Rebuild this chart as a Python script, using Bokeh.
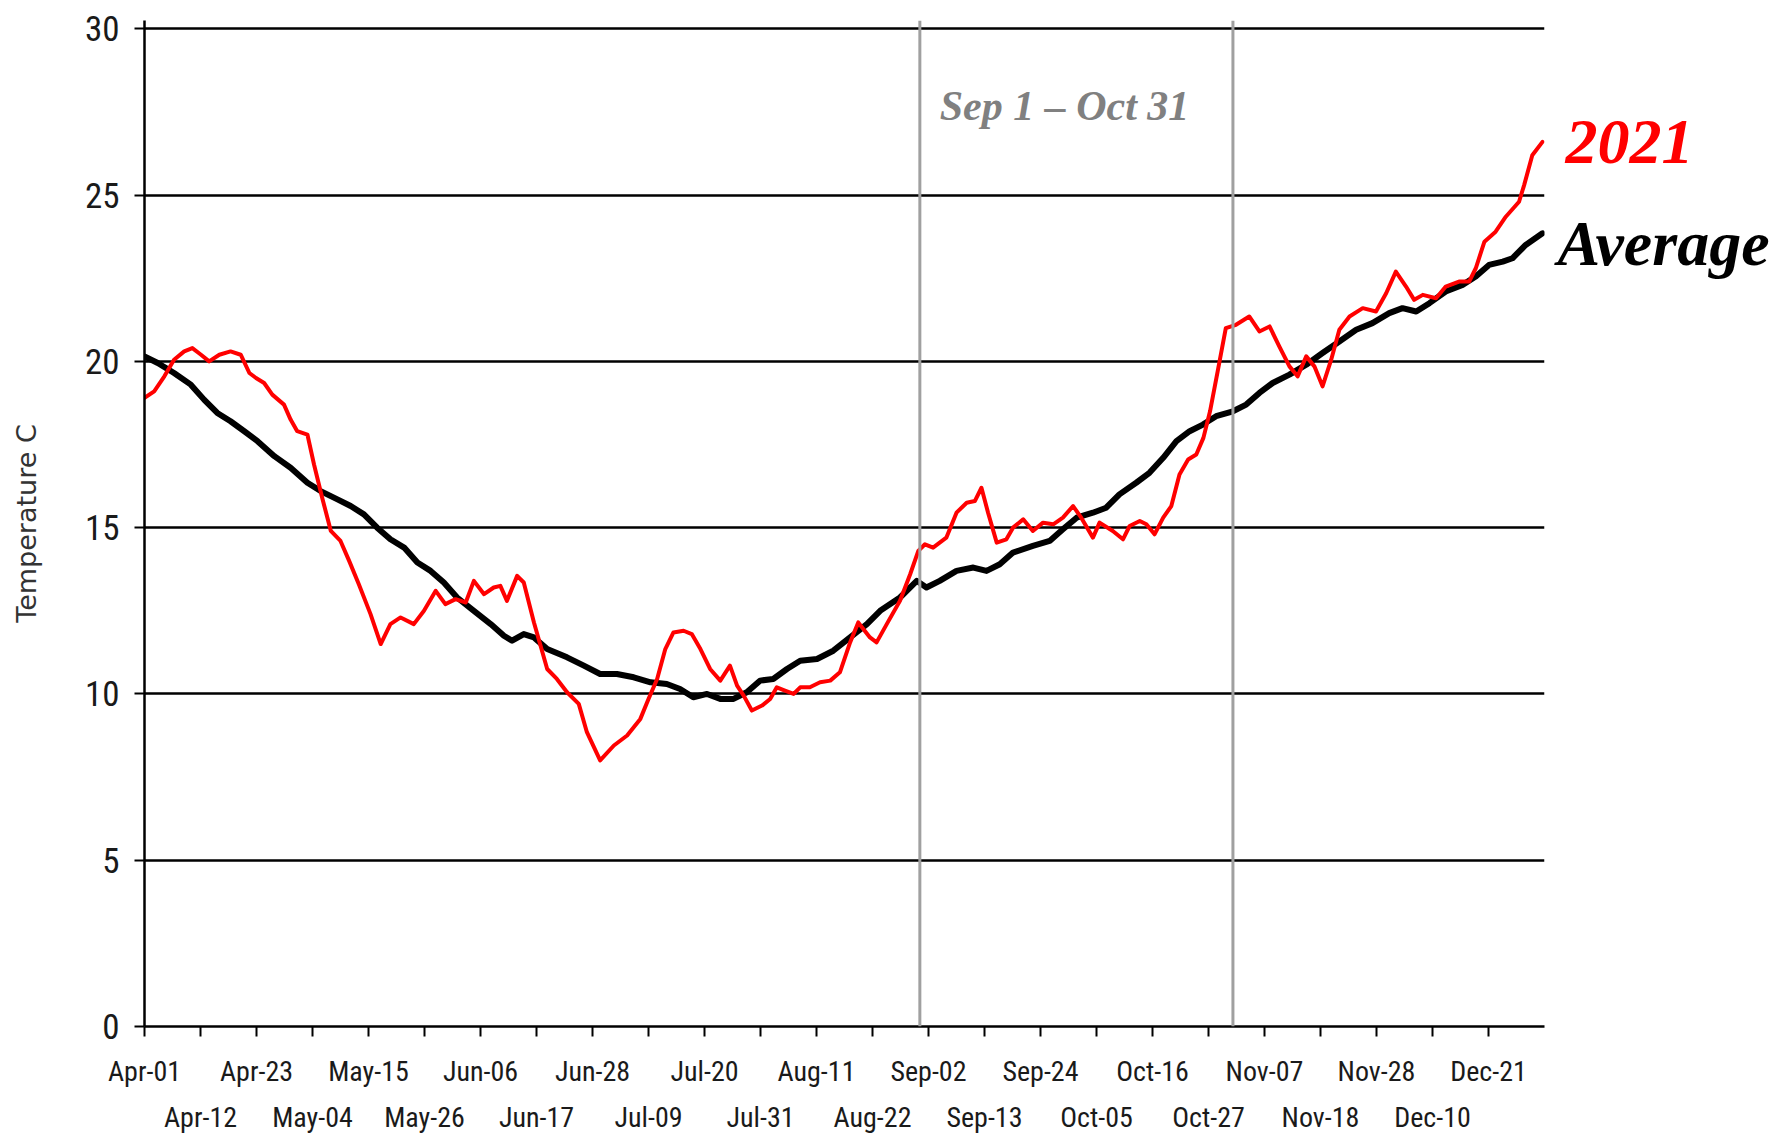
from bokeh.plotting import figure
from bokeh.layouts import row
from bokeh.models import LinearAxis, FixedTicker, Span, Label, Range1d
from bokeh.core.properties import value
from bokeh.embed import file_html
from bokeh.resources import INLINE

# ---- tick labels (one tick every 11 day-index units) ----
tick_labels = ["Apr-01", "Apr-12", "Apr-23", "May-04", "May-15", "May-26", "Jun-06",
               "Jun-17", "Jun-28", "Jul-09", "Jul-20", "Jul-31", "Aug-11", "Aug-22",
               "Sep-02", "Sep-13", "Sep-24", "Oct-05", "Oct-16", "Oct-27", "Nov-07",
               "Nov-18", "Nov-28", "Dec-10", "Dec-21"]
tick_step = 11
y_ticks = [0, 5, 10, 15, 20, 25, 30]

# ---- 2021 series (day index, temperature C) ----
day_2021 = [0, 1.9, 3.9, 5.8, 7.8, 9.4, 11.1, 12.7, 14.7, 16.9, 18.9, 20.6, 21.9, 23.5, 25.1,
            27.4, 28.7, 30.0, 32.0, 33.3, 34.9, 36.6, 38.5, 40.2, 42.1, 44.4, 46.4, 48.3, 50.3,
            52.9, 54.9, 57.2, 59.1, 61.1, 63.1, 64.7, 66.7, 68.6, 69.9, 71.2, 73.2, 74.5, 76.5,
            79.1, 81.0, 83.0, 85.3, 86.9, 89.5, 92.2, 94.8, 97.4, 99.0, 100.7, 102.3, 103.9,
            105.9, 107.5, 109.2, 111.1, 113.1, 115.0, 116.4, 117.7, 119.3, 121.3, 122.9, 124.2,
            125.8, 127.5, 128.8, 130.7, 132.7, 134.7, 136.6, 138.6, 140.2, 142.5, 143.8, 145.8,
            148.4, 150.4, 152.0, 153.3, 154.9, 157.5, 159.5, 161.5, 163.1, 164.4, 165.7, 167.4,
            169.3, 170.6, 172.6, 174.5, 176.5, 178.5, 180.4, 182.4, 184.0, 186.3, 187.6, 190.2,
            192.2, 193.5, 195.5, 196.8, 198.4, 200.1, 201.7, 203.3, 205.0, 206.6, 208.0, 209.3,
            210.8, 212.4, 214.4, 217.0, 219.0, 221.0, 222.9, 224.9, 226.5, 228.2, 229.8, 231.4,
            233.1, 234.7, 236.7, 239.3, 241.9, 243.9, 245.8, 247.8, 249.4, 251.1, 253.7, 255.6,
            258.2, 260.2, 261.5, 263.2, 265.4, 267.4, 270.0, 271.0, 272.6, 274.6]
temp_2021 = [18.9, 19.1, 19.55, 20.05, 20.3, 20.4, 20.2, 20.0, 20.2, 20.3, 20.2, 19.65, 19.5,
             19.35, 19.0, 18.7, 18.25, 17.9, 17.8, 16.9, 15.9, 14.9, 14.6, 14.0, 13.3, 12.4, 11.5,
             12.1, 12.3, 12.1, 12.5, 13.1, 12.7, 12.85, 12.75, 13.4, 13.0, 13.2, 13.25, 12.8,
             13.55, 13.35, 12.15, 10.75, 10.45, 10.05, 9.7, 8.85, 8.0, 8.45, 8.75, 9.25, 9.85,
             10.45, 11.35, 11.85, 11.9, 11.8, 11.35, 10.75, 10.4, 10.85, 10.25, 9.95, 9.5, 9.65,
             9.85, 10.2, 10.1, 10.0, 10.2, 10.2, 10.35, 10.4, 10.65, 11.55, 12.15, 11.7, 11.55,
             12.1, 12.8, 13.6, 14.3, 14.5, 14.4, 14.7, 15.45, 15.75, 15.8, 16.2, 15.45, 14.55,
             14.65, 15.0, 15.25, 14.9, 15.15, 15.1, 15.3, 15.65, 15.3, 14.7, 15.15, 14.9, 14.65,
             15.05, 15.2, 15.1, 14.8, 15.3, 15.65, 16.6, 17.05, 17.2, 17.7, 18.5, 19.7, 21.0,
             21.1, 21.35, 20.9, 21.05, 20.45, 19.85, 19.55, 20.15, 19.85, 19.25, 20.05, 20.95,
             21.35, 21.6, 21.5, 22.05, 22.7, 22.25, 21.85, 22.0, 21.9, 22.25, 22.4, 22.4, 22.8,
             23.6, 23.9, 24.35, 24.8, 25.3, 26.2, 26.6]

# ---- Average series ----
day_avg = [0, 2.6, 5.8, 9.1, 11.7, 14.3, 16.9, 19.6, 22.2, 25.5, 28.7, 32.0, 34.6, 37.9, 40.5,
           43.1, 45.7, 48.3, 51.0, 53.6, 56.2, 58.8, 61.4, 64.7, 68.0, 70.6, 72.2, 74.5, 76.5,
           79.1, 83.0, 86.3, 89.5, 92.8, 96.1, 99.4, 102.6, 105.2, 107.8, 110.5, 113.1, 115.7,
           118.3, 120.9, 123.5, 126.2, 128.8, 132.1, 135.3, 138.6, 141.9, 144.5, 148.4, 151.7,
           153.6, 156.2, 159.5, 162.8, 165.4, 168.0, 170.6, 174.5, 177.8, 180.4, 183.1, 186.3,
           188.9, 191.5, 194.8, 197.4, 200.1, 202.7, 205.3, 207.9, 210.5, 213.8, 216.4, 219.0,
           221.6, 224.9, 228.2, 231.4, 234.7, 238.0, 241.2, 244.5, 247.1, 249.8, 252.4, 255.6,
           258.9, 261.5, 264.1, 266.8, 268.7, 271.3, 274.6]
temp_avg = [20.15, 19.95, 19.65, 19.3, 18.85, 18.45, 18.2, 17.9, 17.6, 17.15, 16.8, 16.35, 16.1,
            15.85, 15.65, 15.4, 15.0, 14.65, 14.4, 13.95, 13.7, 13.35, 12.9, 12.5, 12.1, 11.75,
            11.6, 11.8, 11.7, 11.35, 11.1, 10.85, 10.6, 10.6, 10.5, 10.35, 10.3, 10.15, 9.9, 10.0,
            9.85, 9.85, 10.05, 10.4, 10.45, 10.75, 11.0, 11.05, 11.3, 11.7, 12.1, 12.5, 12.9,
            13.4, 13.2, 13.4, 13.7, 13.8, 13.7, 13.9, 14.25, 14.45, 14.6, 14.95, 15.3, 15.45,
            15.6, 16.0, 16.35, 16.65, 17.1, 17.6, 17.9, 18.1, 18.35, 18.5, 18.7, 19.05, 19.35,
            19.6, 19.9, 20.25, 20.6, 20.95, 21.15, 21.45, 21.6, 21.5, 21.75, 22.1, 22.3, 22.55,
            22.9, 23.0, 23.1, 23.5, 23.85]

# window boundaries (Sep 1 and Oct 31) on the day-index scale
sep1_day = 152.3
oct31_day = 213.8

# series name labels shown right of the plot
series_names = ["2021", "Average"]
series_colors = ["#ff0000", "black"]

NARROW = "Roboto Condensed, Liberation Sans Narrow, Liberation Sans"
H = 1136
TOP, BOTTOM = 20, 109

ticks = [i * tick_step for i in range(len(tick_labels))]
odd_ticks = ticks[1::2]

p = figure(width=1548, height=H, x_range=Range1d(0, 275), y_range=Range1d(0, 30.25),
           output_backend="svg", toolbar_location=None,
           min_border_left=144, min_border_right=4, min_border_top=TOP, min_border_bottom=BOTTOM)
p.outline_line_color = None
p.background_fill_color = "white"
p.border_fill_color = "white"

# grid
p.xgrid.grid_line_color = None
p.ygrid.ticker = FixedTicker(ticks=y_ticks)
p.ygrid.grid_line_color = "black"
p.ygrid.grid_line_width = 2.5

# y axis
ya = p.yaxis[0]
ya.ticker = FixedTicker(ticks=y_ticks)
ya.axis_line_color = "black"
ya.axis_line_width = 2.5
ya.major_tick_line_color = "black"
ya.major_tick_line_width = 2
ya.major_tick_out = 10
ya.major_tick_in = 0
ya.minor_tick_line_color = None
ya.major_label_text_font = NARROW
ya.major_label_text_font_size = "35px"
ya.major_label_text_color = "#1a1a1a"
ya.major_label_standoff = 15
ya.axis_label = "Temperature C"
ya.axis_label_text_font = "DejaVu Sans"
ya.axis_label_text_font_size = "27px"
ya.axis_label_text_font_style = "normal"
ya.axis_label_text_color = "#333333"
ya.axis_label_standoff = 40

# x axis, first row of labels
xa = p.xaxis[0]
xa.ticker = FixedTicker(ticks=ticks)
xa.major_label_overrides = {t: (tick_labels[i] if i % 2 == 0 else "") for i, t in enumerate(ticks)}
xa.axis_line_color = "black"
xa.axis_line_width = 2.5
xa.major_tick_line_color = "black"
xa.major_tick_line_width = 2
xa.major_tick_out = 10
xa.major_tick_in = 0
xa.minor_tick_line_color = None
xa.major_label_text_font = NARROW
xa.major_label_text_font_size = "28px"
xa.major_label_text_color = "#1a1a1a"
xa.major_label_standoff = 18

# x axis, second row of labels
xa2 = LinearAxis(ticker=FixedTicker(ticks=odd_ticks),
                 major_label_overrides={t: tick_labels[ticks.index(t)] for t in odd_ticks})
xa2.axis_line_color = None
xa2.major_tick_line_color = None
xa2.major_tick_out = 0
xa2.major_tick_in = 0
xa2.minor_tick_line_color = None
xa2.major_label_text_font = NARROW
xa2.major_label_text_font_size = "28px"
xa2.major_label_text_color = "#1a1a1a"
xa2.major_label_standoff = 10
p.add_layout(xa2, "below")

# window lines
for loc in (sep1_day, oct31_day):
    p.add_layout(Span(location=loc, dimension="height", line_color="#a0a0a0", line_width=3))

# series
p.line(day_avg, temp_avg, line_color="black", line_width=6, line_join="round", line_cap="round")
p.line(day_2021, temp_2021, line_color="#ff0000", line_width=4, line_join="round", line_cap="round")

p.add_layout(Label(x=156.2, y=27.68, text="Sep 1 \u2013 Oct 31", text_font="Liberation Serif",
                   text_font_style="bold italic", text_font_size="42px", text_color="#808080",
                   text_baseline="alphabetic", text_align="left"))

# side panel with the series names (same vertical scale as the chart)
p2 = figure(width=232, height=H, x_range=Range1d(0, 232), y_range=Range1d(0, 30.25),
            output_backend="svg", toolbar_location=None, title=None,
            x_axis_type=None, y_axis_type=None,
            min_border_left=0, min_border_right=0, min_border_top=TOP, min_border_bottom=BOTTOM)
p2.grid.grid_line_color = None
p2.outline_line_color = None
p2.background_fill_color = "white"
p2.border_fill_color = "white"
p2.text(x=[17, 9], y=[26.6, 23.53], text=series_names, text_color=series_colors,
        text_font=value("Liberation Serif"), text_font_style="bold italic",
        text_font_size="64px", text_baseline="alphabetic", text_align="left")

layout = row(p, p2)
open("out.html", "w").write(file_html(layout, INLINE))
